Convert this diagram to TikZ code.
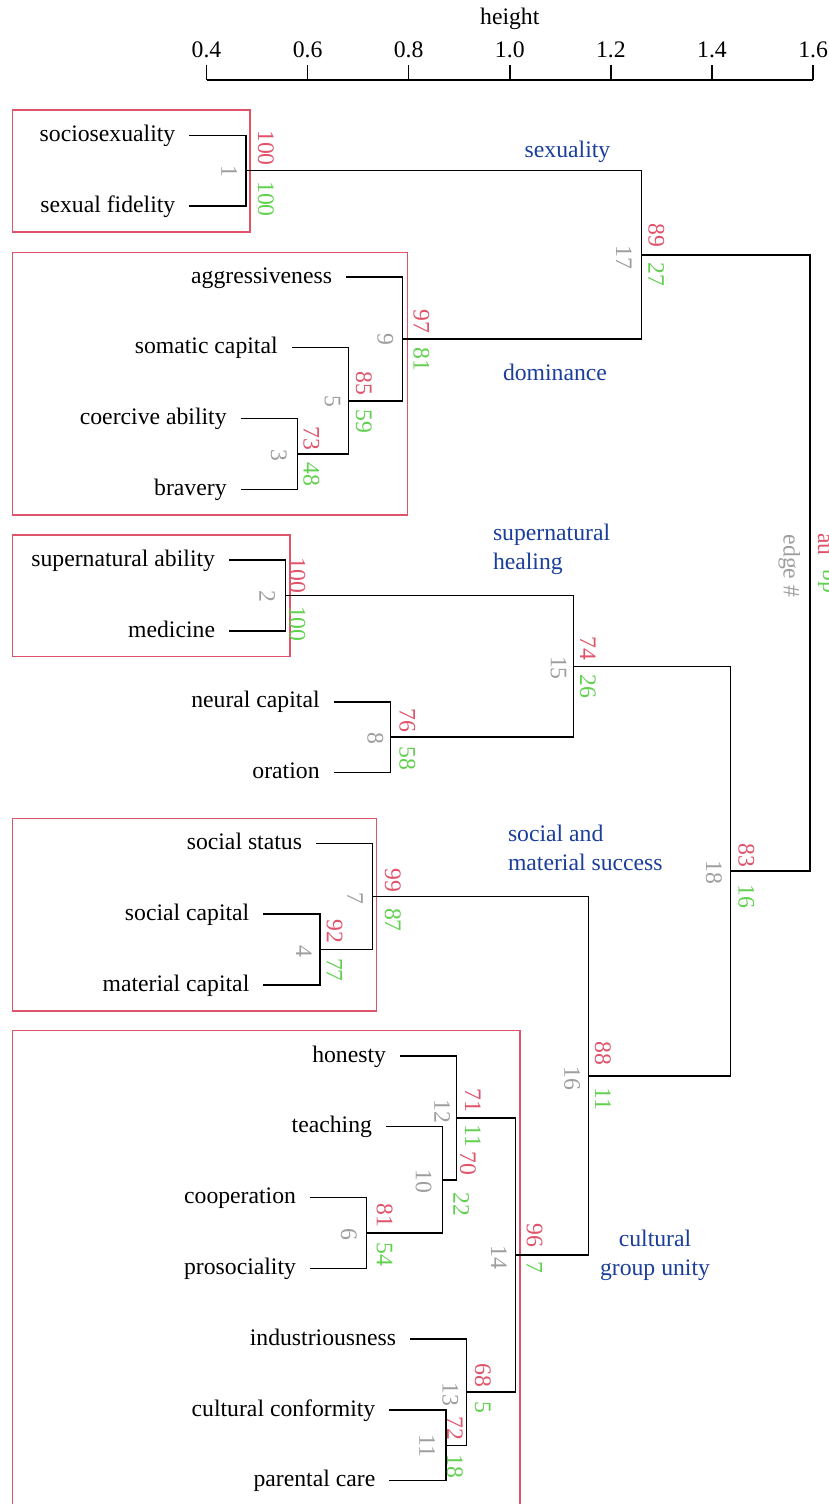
\documentclass[tikz,border=0pt]{standalone}
\usepackage{fontspec}
\setmainfont{Liberation Serif}
\usetikzlibrary{calc}
\definecolor{aured}{HTML}{DF536B}
\definecolor{bpgreen}{HTML}{61D04F}
\definecolor{edgegray}{HTML}{9E9E9E}
\definecolor{clublue}{HTML}{1A3E99}
\definecolor{boxred}{HTML}{DF536B}
\newcommand\leafnode[4]{%
  \coordinate (s#1) at (#2,#3);
  \node[leaf] (t#1) at ($(s#1)+(-14,6.2)$) {#4};}
\newcommand\bracket[3]{%
  \draw[branch] (#1) -- (#1 -| #3) -- (#2 -| #3) -- (#2);}
\newcommand\pvlab[9]{%
  \node[aulab] (au#1) at ($(n#1)+(#2,-#3)$) {#7};
  \node[bplab] (bp#1) at ($(n#1)+(#2,#4)$) {#8};
  \node[edgelab] (e#1) at ($(n#1)+(-#5,#6)$) {#9};}
\begin{document}
\begin{tikzpicture}[x=0.5pt,y=-0.5pt,
  every node/.style={inner sep=0pt, outer sep=0pt, font=\fontsize{11.85}{14}\selectfont},
  leaf/.style={anchor=base east},
  aulab/.style={text=aured, rotate=-90, anchor=south east},
  bplab/.style={text=bpgreen, rotate=-90, anchor=south west},
  edgelab/.style={text=edgegray, rotate=-90, anchor=north},
  branch/.style={line width=0.75pt, line join=miter},
  axisline/.style={line width=0.75pt},
  cluster/.style={draw=boxred, line width=0.65pt},
  clabel/.style={text=clublue}]
\useasboundingbox (0,0) rectangle (829,1504);
\clip (0,0) rectangle (829,1504);

% axis
\foreach \i/\lab in {0/0.4,1/0.6,2/0.8,3/1.0,4/1.2,5/1.4,6/1.6}{
  \coordinate (ax\i) at ({206.5+\i*101.1},80);
  \draw[axisline] (ax\i) -- ++(0,-15);
  \node[anchor=base] (axl\i) at ({206.5+\i*101.1},58) {\lab};
}
\draw[axisline] (ax0) -- (ax6);
\node[anchor=base] (axtitle) at (509.8,25) {height};

% cluster boxes
\draw[cluster] (12.7,110) rectangle (250,232);
\draw[cluster] (12.7,252.7) rectangle (407.3,515);
\draw[cluster] (12.7,535) rectangle (290,656.7);
\draw[cluster] (12.7,818.3) rectangle (376.7,1011);
\draw[cluster] (12.7,1030.5) rectangle (520,1512);

% leaves
\leafnode{1}{189.3}{135.3}{sociosexuality}
\leafnode{2}{189.3}{206.11}{sexual fidelity}
\leafnode{3}{346}{276.92}{aggressiveness}
\leafnode{4}{291.6}{347.73}{somatic capital}
\leafnode{5}{240.6}{418.54}{coercive ability}
\leafnode{6}{240.6}{489.35}{bravery}
\leafnode{7}{229}{560.16}{supernatural ability}
\leafnode{8}{229}{630.97}{medicine}
\leafnode{9}{333.6}{701.78}{neural capital}
\leafnode{10}{333.6}{772.59}{oration}
\leafnode{11}{316}{843.4}{social status}
\leafnode{12}{263.3}{914.21}{social capital}
\leafnode{13}{263.3}{985.02}{material capital}
\leafnode{14}{400}{1055.83}{honesty}
\leafnode{15}{386}{1126.64}{teaching}
\leafnode{16}{310}{1197.45}{cooperation}
\leafnode{17}{310}{1268.26}{prosociality}
\leafnode{18}{410}{1339.07}{industriousness}
\leafnode{19}{389.3}{1409.88}{cultural conformity}
\leafnode{20}{389.3}{1480.69}{parental care}

% merge points
\coordinate (n1) at (246,170.71);
\coordinate (n2) at (285.7,595.57);
\coordinate (n3) at (297.3,453.95);
\coordinate (n4) at (320,949.62);
\coordinate (n5) at (348.3,400.84);
\coordinate (n6) at (366.7,1232.86);
\coordinate (n7) at (372.7,896.51);
\coordinate (n8) at (390.3,737.19);
\coordinate (n9) at (402.7,338.88);
\coordinate (n10) at (442.7,1179.75);
\coordinate (n11) at (446,1445.29);
\coordinate (n12) at (456.7,1117.79);
\coordinate (n13) at (466.7,1392.18);
\coordinate (n14) at (515.7,1254.99);
\coordinate (n15) at (573.3,666.38);
\coordinate (n16) at (588.3,1075.75);
\coordinate (n17) at (641.7,254.80);
\coordinate (n18) at (730.7,871.07);
\coordinate (n19) at (810,562.93);

% branches
\bracket{s1}{s2}{n1}
\bracket{s7}{s8}{n2}
\bracket{s5}{s6}{n3}
\bracket{s12}{s13}{n4}
\bracket{s4}{n3}{n5}
\bracket{s16}{s17}{n6}
\bracket{s11}{n4}{n7}
\bracket{s9}{s10}{n8}
\bracket{s3}{n5}{n9}
\bracket{s15}{n6}{n10}
\bracket{s19}{s20}{n11}
\bracket{s14}{n10}{n12}
\bracket{s18}{n11}{n13}
\bracket{n12}{n13}{n14}
\bracket{n2}{n8}{n15}
\bracket{n7}{n14}{n16}
\bracket{n1}{n9}{n17}
\bracket{n15}{n16}{n18}
\bracket{n17}{n18}{n19}

% au / bp / edge labels
\pvlab{1}{12}{5}{10.5}{9}{0.5}{100}{100}{1}
\pvlab{2}{3.6}{2.5}{10.5}{10.7}{0.5}{100}{100}{2}
\pvlab{3}{6}{4}{9}{10.6}{1}{73}{48}{3}
\pvlab{4}{6.7}{6}{8.5}{8.3}{1.5}{92}{77}{4}
\pvlab{5}{7.7}{5.5}{9}{8}{1}{85}{59}{5}
\pvlab{6}{10}{5.5}{9.5}{10}{2}{81}{54}{6}
\pvlab{7}{12.3}{4.5}{11.5}{9.7}{1.5}{99}{87}{7}
\pvlab{8}{9}{5}{9}{7}{1}{76}{58}{8}
\pvlab{9}{10.7}{5.5}{9}{9.4}{1}{97}{81}{9}
\node[aulab] (au10) at ($(n10)+(17.3,-4.5)$) {70};
\node[bplab] (bp10) at ($(n10)+(10.6,12.5)$) {22};
\node[edgelab] (e10) at ($(n10)+(-11,1.5)$) {10};
\pvlab{11}{1}{5}{9.5}{11}{0.7}{72}{18}{11}
\pvlab{12}{8.3}{5.5}{7}{6.7}{-6.8}{71}{11}{12}
\pvlab{13}{8.3}{5}{9.5}{8.4}{2}{68}{5}{13}
\pvlab{14}{11}{7.5}{6.5}{9}{2}{96}{7}{14}
\pvlab{15}{6.7}{6}{8.5}{6.7}{1.5}{74}{26}{15}
\pvlab{16}{6.7}{10.5}{12}{8.3}{3}{88}{11}{16}
\pvlab{17}{6.7}{7.5}{8}{10}{2.5}{89}{27}{17}
\pvlab{18}{7.7}{4}{13.5}{8.7}{1.5}{83}{16}{18}
\pvlab{19}{8}{7.5}{7}{10}{3}{au}{bp}{edge \#}

% cluster names
\node[clabel, anchor=base] (c1) at (567.5,157.5) {sexuality};
\node[clabel, anchor=base] (c2) at (555,380) {dominance};
\node[clabel, anchor=base west] (c3a) at (493,540.7) {supernatural};
\node[clabel, anchor=base west] (c3b) at (493,569.5) {healing};
\node[clabel, anchor=base west] (c4a) at (508,841.7) {social and};
\node[clabel, anchor=base west] (c4b) at (508,870.7) {material success};
\node[clabel, anchor=base] (c5a) at (655,1246) {cultural};
\node[clabel, anchor=base] (c5b) at (655,1275) {group unity};
\end{tikzpicture}
\end{document}
